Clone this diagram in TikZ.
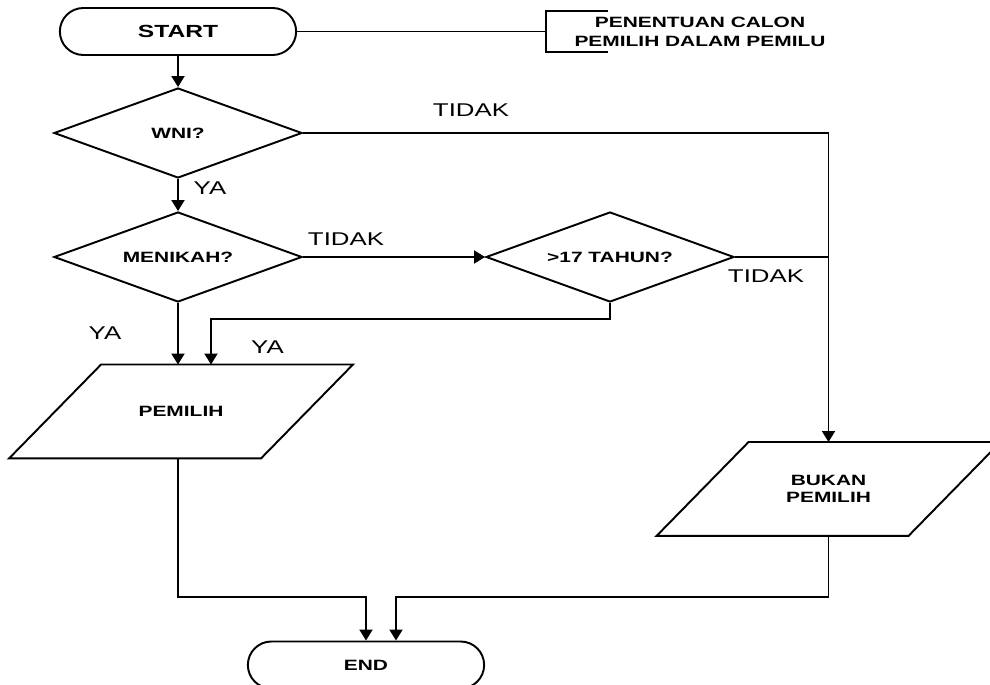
\documentclass[tikz,border=0pt]{standalone}
\usepackage{fontspec}
\setmainfont[FakeStretch=1.4]{Liberation Sans}
\usetikzlibrary{arrows.meta,shapes.geometric,shapes.misc,calc}

\begin{document}
\begin{tikzpicture}[line width=1.1pt, font=\fontsize{8.5}{10}\selectfont\bfseries,
	terminal/.style={draw, rounded rectangle, minimum width=4.96cm, minimum height=0.94cm},
	decision/.style={draw, diamond, aspect=2.75, minimum width=4.96cm, minimum height=1.8cm, inner sep=0pt},
	data/.style={minimum width=5cm, minimum height=1.84cm, align=center},
	answer/.style={font=\fontsize{10.5}{12}\selectfont},
	flow/.style={-{Triangle[length=2.2mm,width=2.6mm]}}]
	\useasboundingbox (0,0) rectangle (19.8,13.68);
	\node[terminal, font=\fontsize{10}{12}\selectfont\bfseries] (start) at (3.56,13.05) {START};
	\node[align=center, font=\fontsize{8.5}{10.8}\selectfont\bfseries] (note) at (14.0,13.04) {PENENTUAN CALON\\PEMILIH DALAM PEMILU};
	\coordinate (noteL) at (10.92,13.04);
	\draw (12.16,13.46) -| (10.92,12.64) -- (12.16,12.64);
	\draw (start.east) -- (start.east -| noteL);
	\node[decision] (wni) at (3.56,11.02) {WNI?};
	\node[decision] (menikah) at (3.56,8.54) {MENIKAH?};
	\node[decision] (umur) at (12.2,8.54) {>17 TAHUN?};
	\node[data] (pemilih) at (3.62,5.45) {PEMILIH};
	\node[data] (bukan) at (16.57,3.9) {BUKAN\\PEMILIH};
	\foreach \n in {pemilih,bukan}
		\draw ([xshift=-0.92cm]\n.south west) -- ([xshift=-0.92cm]\n.south east) -- ([xshift=0.92cm]\n.north east) -- ([xshift=0.92cm]\n.north west) -- cycle;
	\node[terminal] (end) at (7.32,0.38) {END};
	\coordinate (merge) at (7.32,1.74);
	\draw[flow] (start.south) -- (wni.north);
	\draw[flow] (wni.south) -- (menikah.north);
	\draw[flow] (wni.east) -| (bukan.north);
	\draw[flow] (menikah.east) -- (umur.west);
	\draw (umur.east) -- (umur.east -| bukan.north);
	\draw[flow] (menikah.south) -- (menikah.south |- pemilih.north);
	\draw[flow] (umur.south) -- ++(0,-0.32) -| ($(menikah.south |- pemilih.north)+(0.66,0)$);
	\draw[flow] (menikah.south |- pemilih.south) |- (merge) -- (end.north);
	\draw[flow] (bukan.north |- bukan.south) |- ($(merge)+(0.6,0)$) -- ($(end.north)+(0.6,0)$);
	\node[answer] (tidak1) at (9.42,11.48) {TIDAK};
	\node[answer] (ya1) at (4.2,9.92) {YA};
	\node[answer] (tidak2) at (6.92,8.9) {TIDAK};
	\node[answer] (ya2) at (2.1,7.02) {YA};
	\node[answer] (ya3) at (5.35,6.74) {YA};
	\node[answer] (tidak3) at (15.32,8.16) {TIDAK};
\end{tikzpicture}
\end{document}
